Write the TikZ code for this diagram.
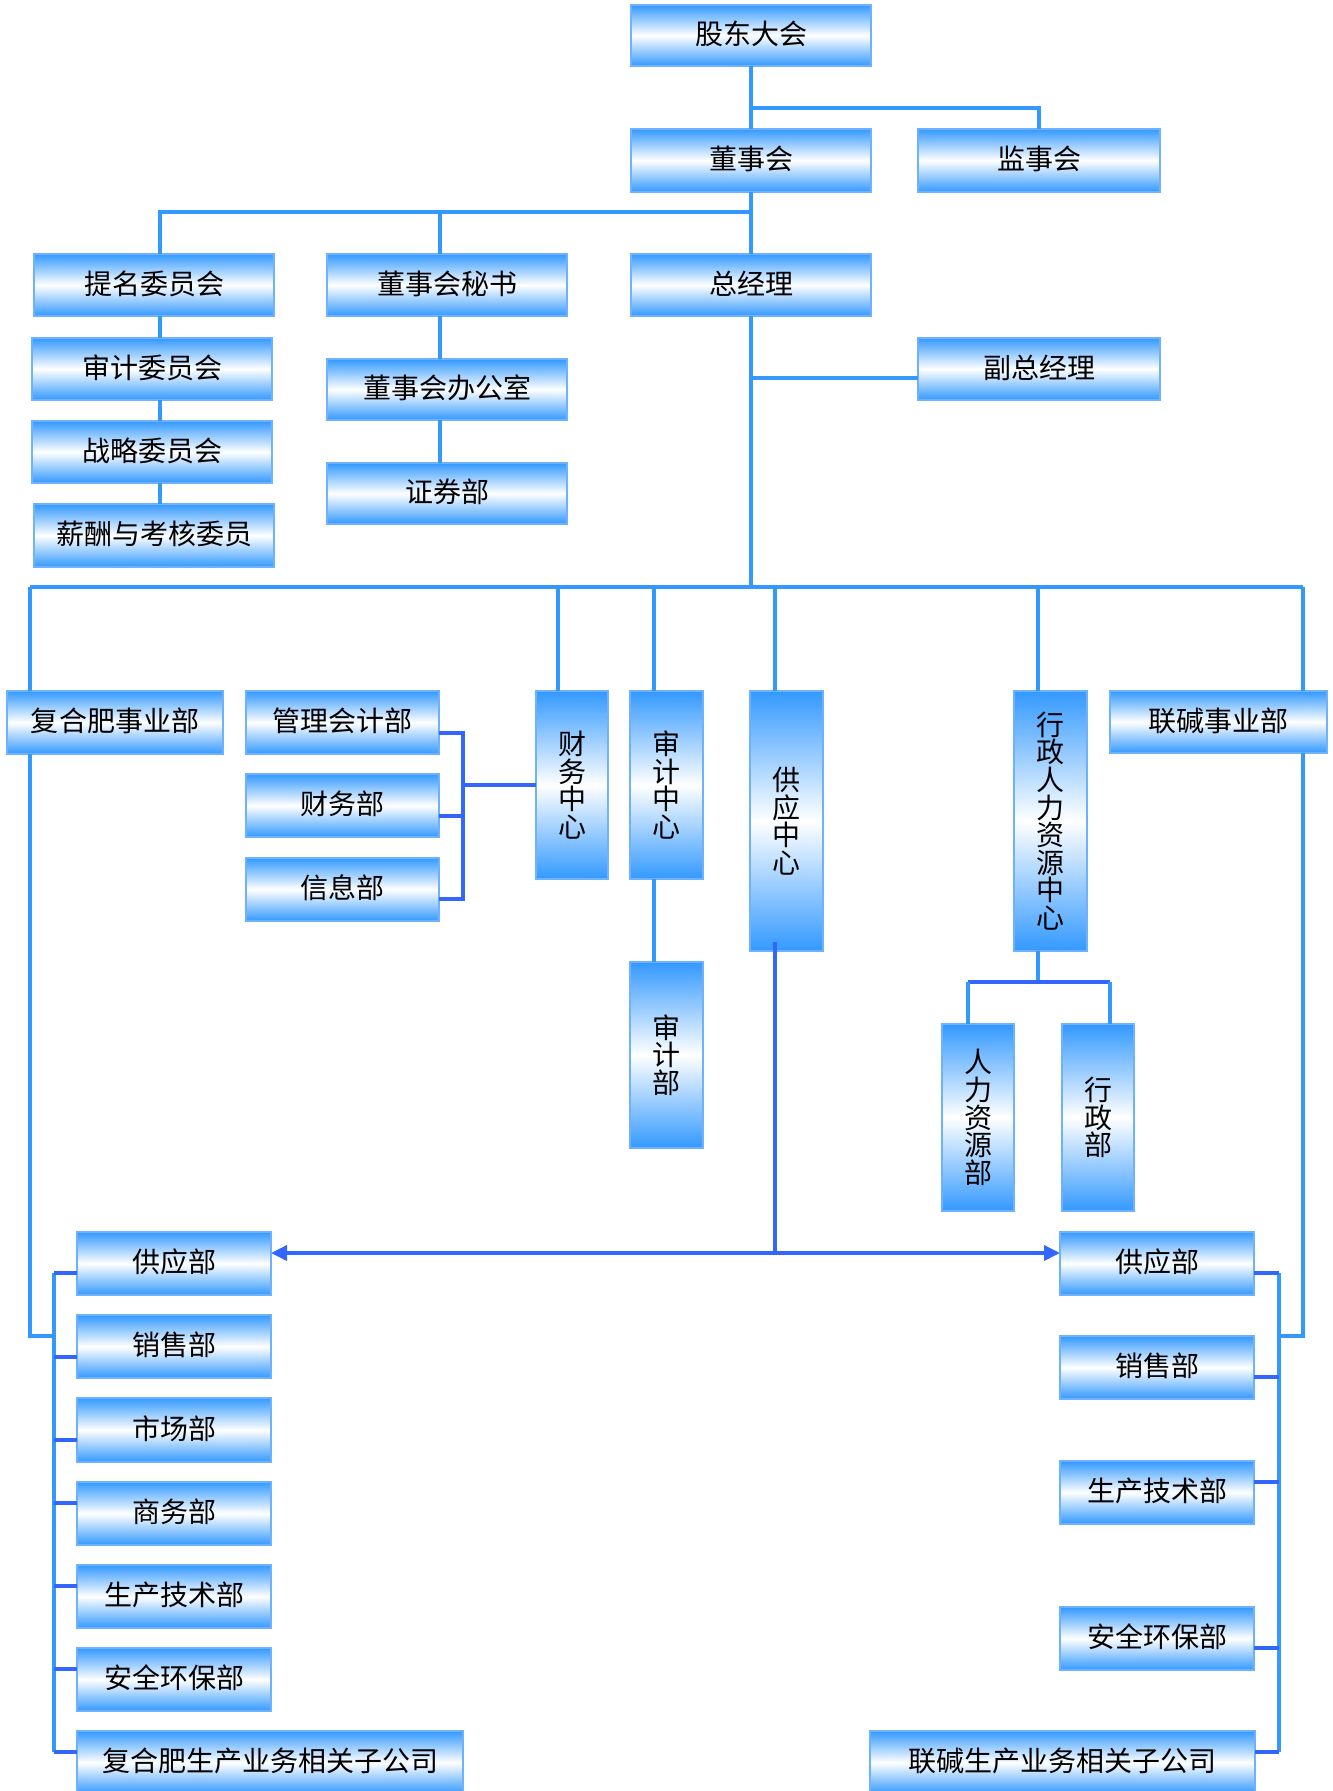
\documentclass[tikz,border=0pt]{standalone}
\usepackage{fontspec}
\newfontfamily\cjk{Noto Sans CJK SC}
\usetikzlibrary{arrows.meta}
\definecolor{bb}{RGB}{51,153,255}
\definecolor{bd}{RGB}{51,102,255}
\definecolor{bedge}{RGB}{110,178,255}
\tikzset{
  boxbase/.style={draw=bedge, line width=0.8pt, top color=bb, bottom color=bb, middle color=white,
    inner sep=0pt, outer sep=0pt, text=black},
  hbox/.style={boxbase, font=\cjk\fontsize{14}{13.8}\selectfont, text height=0.98em, text depth=0.06em},
  vbox/.style={boxbase, font=\cjk\fontsize{14}{13.8}\selectfont, align=center},
  ln/.style={draw=bb, line width=1.8pt},
  dk/.style={draw=bd, line width=1.8pt},
  arr/.style={dk, -{Triangle[length=8pt,width=7.5pt]}}
}
\newcommand\bx[6]{\node[hbox, minimum width={(#4-#2)*0.5pt}, minimum height={(#5-#3)*0.5pt}] (#1) at ({(#2+#4)/2},{(#3+#5)/2}) {#6};}
\newcommand\vbx[6]{\node[vbox, minimum width={(#4-#2)*0.5pt}, minimum height={(#5-#3)*0.5pt}] (#1) at ({(#2+#4)/2},{(#3+#5)/2}) {#6};}
\begin{document}
\begin{tikzpicture}[x=0.5pt,y=-0.5pt]
\useasboundingbox (0,0) rectangle (1332,1791);
% top part
\bx{gd}{631}{5}{871}{66}{股东大会}
\bx{dsh}{631}{129}{871}{192}{董事会}
\bx{jsh}{918}{129}{1160}{192}{监事会}
\bx{tm}{34}{254}{274}{316}{提名委员会}
\bx{ms}{327}{254}{567}{316}{董事会秘书}
\bx{zjl}{631}{254}{871}{316}{总经理}
\bx{sj}{32}{338}{272}{400}{审计委员会}
\bx{bgs}{327}{359}{567}{420}{董事会办公室}
\bx{fz}{918}{338}{1160}{400}{副总经理}
\bx{zl}{32}{421}{272}{483}{战略委员会}
\bx{zq}{327}{463}{567}{524}{证券部}
\bx{xc}{34}{504}{274}{567}{薪酬与考核委员}
% row 4
\bx{fhf}{7}{691}{223}{754}{复合肥事业部}
\bx{glkj}{246}{691}{439}{754}{管理会计部}
\bx{cwb}{246}{774}{439}{837}{财务部}
\bx{xxb}{246}{858}{439}{921}{信息部}
\vbx{cwzx}{536}{691}{608}{879}{财\\务\\中\\心}
\vbx{sjzx}{630}{691}{703}{879}{审\\计\\中\\心}
\vbx{gyzx}{750}{691}{823}{951}{供\\应\\中\\心}
\vbx{xzzx}{1014}{691}{1087}{951}{行\\政\\人\\力\\资\\源\\中\\心}
\bx{ljsy}{1110}{691}{1327}{753}{联碱事业部}
\vbx{sjb}{630}{962}{703}{1148}{审\\计\\部}
\vbx{rlzy}{942}{1024}{1014}{1211}{人\\力\\资\\源\\部}
\vbx{xzb}{1062}{1024}{1134}{1211}{行\\政\\部}
% bottom left
\bx{gyL}{77}{1232}{271}{1295}{供应部}
\bx{xsL}{77}{1315}{271}{1378}{销售部}
\bx{scb}{77}{1398}{271}{1462}{市场部}
\bx{swb}{77}{1482}{271}{1545}{商务部}
\bx{scjsL}{77}{1565}{271}{1628}{生产技术部}
\bx{aqL}{77}{1648}{271}{1711}{安全环保部}
\bx{fhzgs}{77}{1731}{463}{1794}{复合肥生产业务相关子公司}
% bottom right
\bx{gyR}{1060}{1232}{1254}{1295}{供应部}
\bx{xsR}{1060}{1336}{1254}{1399}{销售部}
\bx{scjsR}{1060}{1461}{1254}{1524}{生产技术部}
\bx{aqR}{1060}{1607}{1254}{1670}{安全环保部}
\bx{ljzgs}{870}{1731}{1255}{1794}{联碱生产业务相关子公司}

% junction coordinates
\coordinate (b1) at (751,108);
\coordinate (b2) at (160,212);
\coordinate (b3) at (751,212);
\coordinate (b4) at (440,212);
\coordinate (b5) at (751,378);
\coordinate (hL) at (30,587);
\coordinate (hC) at (751,587);
\coordinate (hR) at (1303,587);
\coordinate (d1) at (558,587);
\coordinate (d2) at (654,587);
\coordinate (d3) at (775,587);
\coordinate (d4) at (1038,587);
\coordinate (lK) at (30,1336);
\coordinate (lB) at (54,1336);
\coordinate (rK) at (1303,1336);
\coordinate (rB) at (1279,1336);
\coordinate (fT) at (463,733);
\coordinate (fB) at (463,899);
\coordinate (fM) at (463,785);
\coordinate (hrA) at (1038,982);
\coordinate (hrL) at (968,982);
\coordinate (hrR) at (1110,982);
\coordinate (gyS) at (775,942);
\coordinate (gyJ) at (775,1253);

% top connectors
\draw[ln] (gd.south) -- (dsh.north);
\draw[ln] (b1) -| (jsh.north);
\draw[ln] (dsh.south) -- (zjl.north);
\draw[ln] (b3) -- (b2) -- (tm.north -| b2);
\draw[ln] (b4) -- (ms.north -| b4);
\draw[ln] (tm.south -| b2) -- (sj.north -| b2);
\draw[ln] (sj.south -| b2) -- (zl.north -| b2);
\draw[ln] (zl.south -| b2) -- (xc.north -| b2);
\draw[ln] (ms.south -| b4) -- (bgs.north -| b4);
\draw[ln] (bgs.south -| b4) -- (zq.north -| b4);
\draw[ln] (zjl.south) -- (hC);
\draw[ln] (b5) -- (fz.west |- b5);
\draw[ln] (hL) -- (hR);
% drops
\draw[ln] (hL) -- (fhf.north -| hL);
\draw[ln] (d1) -- (cwzx.north -| d1);
\draw[ln] (d2) -- (sjzx.north -| d2);
\draw[ln] (d3) -- (gyzx.north -| d3);
\draw[ln] (d4) -- (xzzx.north -| d4);
\draw[ln] (hR) -- (ljsy.north -| hR);
% finance bracket
\draw[dk] (glkj.east |- fT) -- (fT) -- (fB) -- (xxb.east |- fB);
\draw[dk] (cwb.east |- 0,816) -- (463,816);
\draw[dk] (fM) -- (cwzx.west |- fM);
% audit
\draw[ln] (sjzx.south -| d2) -- (sjb.north -| d2);
% HR
\draw[ln] (xzzx.south -| hrA) -- (hrA);
\draw[dk] (hrL) -- (hrR);
\draw[ln] (hrL) -- (rlzy.north -| hrL);
\draw[ln] (hrR) -- (xzb.north -| hrR);
% supply
\draw[dk] (gyS) -- (gyJ);
\draw[arr] (gyJ) -- (gyL.east |- gyJ);
\draw[arr] (gyJ) -- (gyR.west |- gyJ);
% left division
\draw[ln] (fhf.south -| hL) -- (lK) -- (lB);
\draw[ln] (54,1273) -- (54,1752);
\foreach \n/\y in {gyL/1273, xsL/1357, scb/1440, swb/1503, scjsL/1586, aqL/1669, fhzgs/1752}
  \draw[dk] (54,\y) -- (\n.west |- 54,\y);
% right division
\draw[ln] (ljsy.south -| hR) -- (rK) -- (rB);
\draw[ln] (1279,1273) -- (1279,1752);
\foreach \n/\y in {gyR/1273, xsR/1377, scjsR/1482, aqR/1648, ljzgs/1752}
  \draw[dk] (\n.east |- 1279,\y) -- (1279,\y);
\end{tikzpicture}
\end{document}
